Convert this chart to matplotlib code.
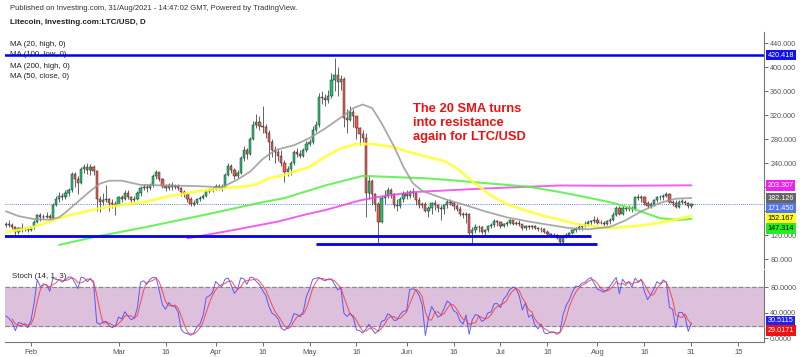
#!/usr/bin/env python3

import matplotlib
matplotlib.use('Agg')
import matplotlib.pyplot as plt
import matplotlib.dates as mdates
import matplotlib.transforms as mtrans
from matplotlib.ticker import FuncFormatter
import numpy as np
import pandas as pd

plt.rcParams['font.family'] = ['Liberation Sans', 'DejaVu Sans']

# LTC/USD daily, 11 Jan - 31 Aug 2021 (the first 13 days only feed the stochastic)
close = [148, 142, 156, 166, 156, 160, 159, 164, 156, 156, 132, 140, 137, 139, 137, 134, 126, 132, 131, 130, 128,
         133, 142, 154, 150, 151, 152, 148, 170, 180, 186, 184, 190, 195, 222, 214, 207, 230, 233, 229, 234, 227, 180, 176, 179, 180, 174, 172, 171,
         183, 180, 190, 184, 179, 180, 190, 198, 200, 198, 203, 219, 225, 214, 202, 198, 204, 201, 202, 199, 192, 188, 180, 172, 174, 180, 182, 186, 194, 195, 197,
         202, 200, 199, 220, 236, 228, 219, 224, 248, 262, 255, 280, 304, 308, 302, 300, 290, 275, 262, 258, 252, 240, 225, 230, 240, 258, 256, 252, 262, 272,
         276, 295, 304, 350, 348, 345, 352, 378, 387, 375, 380, 315, 312, 326, 318, 298, 288, 282, 190, 210, 188, 172, 142, 182, 186, 195, 188, 170, 168, 180, 188,
         186, 192, 190, 178, 170, 172, 160, 166, 174, 170, 166, 164, 170, 176, 174, 168, 164, 156, 153, 155, 124, 128, 134, 133, 126, 128, 136, 137, 144, 142,
         136, 138, 141, 145, 139, 141, 138, 132, 135, 133, 135, 132, 130, 130, 126, 122, 121, 120, 116, 108, 117, 121, 124, 128, 131, 134, 136, 139, 142, 144, 145,
         141, 140, 139, 143, 146, 154, 166, 156, 165, 164, 166, 163, 183, 182, 184, 174, 168, 172, 178, 184, 183, 186, 188, 175, 174, 167, 176, 176, 174, 168, 171.45]
high = [170, 155, 158, 170, 168, 165, 163, 167, 166, 160, 157, 143, 142, 142, 145, 140, 135, 134, 140, 133, 132,
        135, 145, 156, 157, 155, 158, 155, 173, 185, 192, 190, 196, 198, 226, 226, 218, 234, 238, 240, 239, 237, 229, 186, 190, 204, 182, 180, 177,
        186, 187, 196, 195, 186, 185, 193, 202, 205, 206, 207, 222, 229, 226, 216, 205, 207, 208, 206, 205, 200, 196, 190, 184, 178, 182, 185, 188, 196, 198, 201,
        205, 206, 205, 224, 240, 238, 232, 228, 252, 268, 265, 284, 310, 322, 318, 335, 305, 296, 280, 268, 264, 262, 245, 236, 244, 262, 265, 262, 266, 277,
        280, 302, 310, 357, 360, 356, 362, 390, 415, 400, 387, 384, 330, 335, 330, 318, 300, 296, 290, 218, 214, 190, 175, 186, 196, 201, 198, 190, 180, 184, 193,
        195, 196, 198, 192, 184, 176, 176, 168, 176, 178, 172, 170, 172, 180, 181, 176, 172, 168, 158, 158, 157, 133, 138, 137, 136, 130, 137, 140, 147, 146,
        143, 140, 144, 147, 146, 144, 145, 139, 137, 137, 137, 137, 133, 133, 132, 128, 124, 124, 122, 118, 119, 123, 126, 130, 133, 141, 138, 144, 145, 146, 152,
        150, 146, 143, 145, 149, 158, 168, 168, 168, 169, 170, 168, 186, 188, 187, 186, 177, 175, 181, 186, 187, 189, 192, 190, 179, 178, 178, 181, 178, 176, 174]
low = [122, 136, 138, 154, 146, 153, 150, 155, 154, 140, 128, 122, 134, 134, 134, 130, 120, 122, 126, 127, 125,
       127, 131, 140, 144, 147, 148, 143, 146, 168, 175, 178, 180, 185, 192, 200, 188, 205, 224, 222, 220, 221, 160, 158, 170, 175, 160, 165, 154,
       170, 175, 178, 180, 172, 175, 178, 186, 195, 192, 195, 200, 214, 210, 198, 193, 195, 196, 197, 196, 186, 184, 176, 169, 169, 172, 177, 180, 184, 190, 192,
       195, 196, 194, 198, 218, 224, 214, 216, 222, 244, 247, 254, 278, 298, 296, 290, 282, 245, 250, 240, 244, 235, 209, 218, 220, 237, 250, 248, 250, 258,
       268, 272, 292, 300, 338, 336, 340, 348, 360, 352, 362, 300, 290, 310, 300, 280, 270, 276, 151, 180, 170, 160, 107, 140, 172, 182, 182, 165, 160, 165, 176,
       180, 182, 184, 170, 165, 166, 158, 150, 155, 162, 158, 145, 156, 166, 170, 162, 160, 152, 148, 140, 120, 106, 124, 126, 122, 120, 126, 132, 134, 136,
       132, 133, 136, 139, 137, 137, 136, 128, 129, 130, 131, 130, 127, 125, 124, 120, 118, 117, 114, 104, 105, 115, 119, 122, 125, 128, 128, 133, 136, 137, 141,
       139, 138, 135, 137, 138, 144, 152, 154, 154, 160, 161, 159, 162, 178, 176, 170, 165, 165, 168, 176, 179, 178, 183, 173, 168, 165, 165, 172, 170, 166, 166]
first_open = 150

# moving averages
ma20_dates = ['2021-01-24', '2021-01-28', '2021-02-02', '2021-02-07', '2021-02-10', '2021-02-12', '2021-02-16', '2021-02-20',
              '2021-02-23', '2021-02-26', '2021-03-02', '2021-03-08', '2021-03-16', '2021-03-26', '2021-04-03', '2021-04-08',
              '2021-04-12', '2021-04-16', '2021-04-20', '2021-04-26', '2021-05-01', '2021-05-06', '2021-05-12', '2021-05-15',
              '2021-05-18', '2021-05-21', '2021-05-24', '2021-05-28', '2021-05-31', '2021-06-03', '2021-06-06', '2021-06-14',
              '2021-06-20', '2021-06-26', '2021-07-03', '2021-07-10', '2021-07-17', '2021-07-23', '2021-07-29', '2021-08-05',
              '2021-08-10', '2021-08-15', '2021-08-21', '2021-08-26', '2021-08-31']
ma20_vals = [160, 152, 147, 146, 150, 158, 176, 194, 206, 211, 211, 204, 203, 202, 200, 213, 226, 247, 262, 270, 282, 298,
             320, 332, 338, 332, 307, 268, 234, 207, 194, 179, 170, 160, 150, 143, 137, 132, 130, 134, 145, 160, 174, 181, 182.126]

ma50_dates = ['2021-01-24', '2021-02-02', '2021-02-07', '2021-02-12', '2021-02-17', '2021-02-23', '2021-03-05', '2021-03-10',
              '2021-03-16', '2021-03-26', '2021-04-05', '2021-04-10', '2021-04-14', '2021-04-18', '2021-04-22', '2021-05-01',
              '2021-05-06', '2021-05-11', '2021-05-16', '2021-05-21', '2021-05-27', '2021-06-01', '2021-06-08', '2021-06-13',
              '2021-06-17', '2021-06-22', '2021-06-28', '2021-07-03', '2021-07-08', '2021-07-15', '2021-07-20', '2021-07-26',
              '2021-08-05', '2021-08-10', '2021-08-16', '2021-08-21', '2021-08-25', '2021-08-31']
ma50_vals = [125, 134, 143, 152, 158, 165, 173, 176, 184, 193, 199.5, 201, 205, 215, 219, 234, 251, 265, 272, 272, 268, 260,
             250, 244, 232, 210, 186, 172, 163, 152, 146, 138, 132, 134, 137, 141, 145, 152.167]

ma100_dates = ['2021-02-10', '2021-02-22', '2021-03-10', '2021-04-01', '2021-04-14', '2021-04-23', '2021-05-06', '2021-05-18',
               '2021-06-07', '2021-06-15', '2021-06-26', '2021-07-10', '2021-07-20', '2021-07-26', '2021-08-06', '2021-08-13',
               '2021-08-21', '2021-08-27', '2021-08-31']
ma100_vals = [104, 118, 134, 158, 173, 182, 203, 219, 215, 212, 207, 201, 192, 186, 174, 163, 148.5, 145.5, 147.314]

ma200_dates = ['2021-03-23', '2021-04-08', '2021-04-21', '2021-04-30', '2021-05-06', '2021-05-17', '2021-05-23', '2021-06-03',
               '2021-06-26', '2021-07-20', '2021-08-06', '2021-08-31']
ma200_vals = [115, 130, 143, 155, 162, 178, 184, 192, 198, 203, 202.5, 203.307]

# drawn support / resistance levels
level_vals = [119.5, 105]
level_from = ['2021-01-23', '2021-05-03']
level_to = ['2021-07-30', '2021-08-01']
top_level = 420.418

tick_dates = ['2021-02-01', '2021-03-01', '2021-03-16', '2021-04-01', '2021-04-16', '2021-05-01', '2021-05-16',
              '2021-06-01', '2021-06-16', '2021-07-01', '2021-07-16', '2021-08-01', '2021-08-16', '2021-08-31', '2021-09-15']
tick_labels = ['Feb', 'Mar', '16', 'Apr', '16', 'May', '16', 'Jun', '16', 'Jul', '16', 'Aug', '16', '31', '15']

price_tags = [420.418, 203.307, 182.126, 171.450, 152.167, 147.314]
stoch_tags = [30.5115, 29.0171]

# build the frame
dates = pd.date_range('2021-01-11', periods=len(close), freq='D')
df = pd.DataFrame({'close': close, 'high': high, 'low': low}, index=dates)
df['open'] = df['close'].shift(1).fillna(first_open)
df['high'] = df[['high', 'open', 'close']].max(axis=1)
df['low'] = df[['low', 'open', 'close']].min(axis=1)

lo14 = df['low'].rolling(14).min()
hi14 = df['high'].rolling(14).max()
df['k'] = 100 * (df['close'] - lo14) / (hi14 - lo14)
df['d'] = df['k'].rolling(3).mean()
view = df.loc['2021-01-24':]

# figure in pixel layout
W, H = 800, 357
fig = plt.figure(figsize=(8, 3.57), dpi=100)


def box(l, t, r, b):
    return [l / W, 1 - b / H, (r - l) / W, (b - t) / H]


ax = fig.add_axes(box(5, 32, 764, 268))
ax2 = fig.add_axes(box(5, 270, 764, 342), sharex=ax)

feb1 = mdates.date2num(pd.Timestamp('2021-02-01'))
ax.set_xlim(feb1 - 8.3, feb1 + 234.2)

# candles
x = mdates.date2num(view.index)
up = (view['close'] >= view['open']).values
body_lo = np.minimum(view['open'], view['close'])
body_h = np.maximum(np.abs(view['close'] - view['open']), 0.8)
ax.vlines(x, view['low'], view['high'], color='#4a4a4a', lw=0.6, zorder=2)
ax.bar(x, body_h, bottom=body_lo, width=0.72, color=np.where(up, '#1fc271', '#f2574f'),
       edgecolor='#2a2a2a', linewidth=0.35, zorder=3)

# moving averages
for d, v, c, lw in [(ma200_dates, ma200_vals, '#ee44ee', 1.4),
                    (ma100_dates, ma100_vals, '#55ee44', 1.5),
                    (ma50_dates, ma50_vals, '#ffff33', 2.0),
                    (ma20_dates, ma20_vals, '#9a9a9a', 1.3)]:
    ax.plot(mdates.date2num(pd.to_datetime(d)), v, color=c, lw=lw, alpha=0.85, zorder=4,
            solid_capstyle='round', solid_joinstyle='round')

# levels
ax.axhline(top_level, color='#0000ee', lw=1.8, zorder=5)
ax.hlines(level_vals, mdates.date2num(pd.to_datetime(level_from)), mdates.date2num(pd.to_datetime(level_to)),
          color='#0000ee', lw=2, zorder=5)
ax.axhline(close[-1], color='#3355dd', lw=0.6, ls=(0, (1, 1.5)), zorder=1)

# 160 and 200 sit under the price tags, so only their tick marks show
ax.set_ylim(65.5, 458.8)
ax.yaxis.tick_right()
ax.set_yticks(np.arange(80, 441, 40))
ax.yaxis.set_major_formatter(FuncFormatter(lambda v, p: '' if v in (160, 200) else f'{v:.3f}'))
ax.tick_params(axis='y', labelsize=5.2, colors='#555555', length=3, width=0.6, pad=1.5)
ax.tick_params(axis='x', bottom=False, labelbottom=False)
for s in ['left', 'top', 'bottom']:
    ax.spines[s].set_visible(False)
ax.spines['right'].set_color('#777777')

# price tags on the right
trans = mtrans.blended_transform_factory(ax.transAxes, ax.transData)
tag_slots = [420.418, 203.307, 182.126, 164.3, 148.3, 131.0]
tag_bg = ['#1010f0', '#ee22ee', '#666666', '#5577ee', '#ffff22', '#22ee22']
tag_fg = ['white', 'white', 'white', 'white', 'black', 'black']
for v, ys, bg, fg in zip(price_tags, tag_slots, tag_bg, tag_fg):
    ax.text(1.0045, ys, f'{v:.3f}', transform=trans, fontsize=5.2, ha='left', va='center', color=fg,
            bbox=dict(boxstyle='square,pad=0.25', fc=bg, ec='none'), zorder=10, clip_on=False)

# stochastic pane
ax2.axhspan(20, 80, color='#dcc0dc', zorder=0)
ax2.axhline(80, color='#888888', lw=0.8, ls=(0, (4, 2)), zorder=1)
ax2.axhline(20, color='#888888', lw=0.8, ls=(0, (4, 2)), zorder=1)
ax2.plot(x, view['k'], color='#4444ff', lw=0.7, alpha=0.85, zorder=3)
ax2.plot(x, view['d'], color='#ff3333', lw=0.7, alpha=0.85, zorder=3)
ax2.set_ylim(-5.5, 107)
ax2.yaxis.tick_right()
ax2.set_yticks([0, 40, 80])
ax2.yaxis.set_major_formatter(FuncFormatter(lambda v, p: f'{v:.4f}'))
ax2.tick_params(axis='y', labelsize=5.2, colors='#555555', length=3, width=0.6, pad=1.5)
ax2.set_xticks(mdates.date2num(pd.to_datetime(tick_dates)))
ax2.set_xticklabels(tick_labels)
ax2.tick_params(axis='x', labelsize=5.5, colors='#555555', length=3, width=0.6, pad=2)
for s in ['left', 'top']:
    ax2.spines[s].set_visible(False)
ax2.spines['right'].set_color('#777777')
ax2.spines['bottom'].set_color('#777777')

trans2 = mtrans.blended_transform_factory(ax2.transAxes, ax2.transData)
for v, ys, bg in zip(stoch_tags, [27.5, 12.0], ['#2222ee', '#ee1111']):
    ax2.text(1.0045, ys, f'{v:.4f}', transform=trans2, fontsize=5.2, ha='left', va='center', color='white',
             bbox=dict(boxstyle='square,pad=0.25', fc=bg, ec='none'), zorder=10, clip_on=False)

ax2.text(12 / W, 1 - 276 / H, 'Stoch (14, 1, 3)', transform=fig.transFigure, fontsize=5.7,
         color='#222222', va='center', ha='left', zorder=6)

# headers and legend
fig.text(10 / W, 1 - 8 / H, 'Published on Investing.com, 31/Aug/2021 - 14:47:02 GMT, Powered by TradingView.',
         fontsize=5.5, color='#333333', va='center', ha='left')
fig.text(10 / W, 1 - 22 / H, 'Litecoin, Investing.com:LTC/USD, D', fontsize=5.8, fontweight='bold',
         color='#222222', va='center', ha='left')
for i, name in enumerate(['MA (20, high, 0)', 'MA (100, low, 0)', 'MA (200, high, 0)', 'MA (50, close, 0)']):
    ax.text(10 / W, 1 - (44 + 11 * i) / H, name, transform=fig.transFigure, fontsize=5.7,
            color='#222222', va='center', ha='left', zorder=1)

ax.text(413 / W, 1 - 103 / H, 'The 20 SMA turns\ninto resistance\nagain for LTC/USD', transform=fig.transFigure,
        fontsize=9.3, fontweight='bold', color='#ee1111', va='top', ha='left', linespacing=1.2, zorder=6)

fig.savefig('out.png', dpi=100)
